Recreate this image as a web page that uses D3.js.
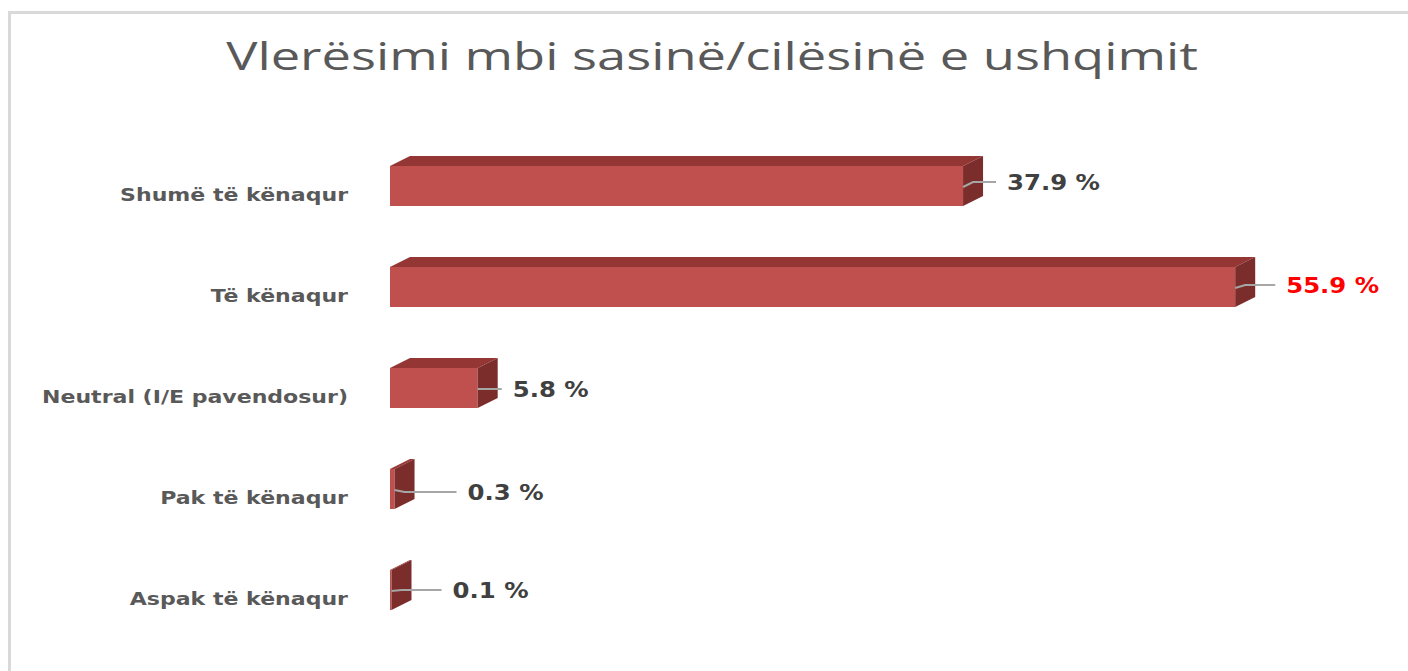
<!DOCTYPE html>
<html>
<head>
<meta charset="utf-8">
<script src="https://cdn.jsdelivr.net/npm/d3@7"></script>
<style>
  body { margin: 0; background: #fff; }
  svg { display: block; }
</style>
</head>
<body>
<div id="chart"></div>
<script>
// Chart data
var categories = ["Shumë të kënaqur", "Të kënaqur", "Neutral (I/E pavendosur)", "Pak të kënaqur", "Aspak të kënaqur"];
var values = [37.9, 55.9, 5.8, 0.3, 0.1];
var valueLabels = ["37.9 %", "55.9 %", "5.8 %", "0.3 %", "0.1 %"];
var highlight = [false, true, false, false, false];
var title = "Vlerësimi mbi sasinë/cilësinë e ushqimit";

var W = 1408, H = 671;
var depthX = 20, depthY = -10;
// small hand nudges for the data labels, as in the original
var labelDx = [24, 31, 15, 53, 41];
var labelDy = [-4, -2, 1, 3, 0];

var svg = d3.select("#chart").append("svg").attr("width", W).attr("height", H);

// chart area border
svg.append("rect")
  .attr("x", 9.5).attr("y", 12.5)
  .attr("width", W + 20).attr("height", H + 20)
  .attr("fill", "#fff")
  .attr("stroke", "#d9d9d9").attr("stroke-width", 3);

var x = d3.scaleLinear().domain([0, 60]).range([390, 390 + 60 * 15.12]);
var y = d3.scalePoint().domain(categories).range([135.5, 640.5]).padding(0.5);
var barH = 40;

// title
var t = svg.append("text")
  .attr("x", 712).attr("y", 70)
  .attr("text-anchor", "middle")
  .attr("font-family", "'Open Sans', sans-serif")
  .attr("font-size", 39)
  .attr("fill", "#595959")
  .text(title);
var tw = t.node().getComputedTextLength();
t.attr("transform", "translate(712,0) scale(" + (972 / tw) + ",1) translate(-712,0)");

// category labels
var catG = svg.append("g");
var cats = catG.selectAll("text")
  .data(categories)
  .join("text")
  .attr("x", 0)
  .attr("y", d => y(d) + 15)
  .attr("text-anchor", "end")
  .attr("font-family", "'DejaVu Sans', sans-serif")
  .attr("font-weight", "bold")
  .attr("font-size", 18.5)
  .attr("fill", "#595959")
  .text(d => d);
var cw = cats.nodes()[0].getComputedTextLength();
catG.attr("transform", "translate(348,0) scale(" + (228 / cw) + ",1)");

// bars
var bars = svg.append("g").selectAll("g")
  .data(values)
  .join("g");

function poly(pts) { return "M" + pts.map(p => p.join(",")).join("L") + "Z"; }

bars.append("path")
  .attr("fill", "#c0504d")
  .attr("d", (d, i) => {
    var y0 = y(categories[i]) - barH / 2, y1 = y0 + barH, x0 = x(0), x1 = x(d);
    return poly([[x0, y0], [x1, y0], [x1, y1], [x0, y1]]);
  });
bars.append("path")
  .attr("fill", "#943634")
  .attr("d", (d, i) => {
    var y0 = y(categories[i]) - barH / 2, x0 = x(0), x1 = x(d);
    return poly([[x0, y0], [x0 + depthX, y0 + depthY], [x1 + depthX, y0 + depthY], [x1, y0]]);
  });
bars.append("path")
  .attr("fill", "#7b2d2b")
  .attr("d", (d, i) => {
    var y0 = y(categories[i]) - barH / 2, y1 = y0 + barH, x1 = x(d);
    return poly([[x1, y0], [x1 + depthX, y0 + depthY], [x1 + depthX, y1 + depthY], [x1, y1]]);
  });

// leader lines
svg.append("g").selectAll("path")
  .data(values)
  .join("path")
  .attr("fill", "none")
  .attr("stroke", "#a6a6a6")
  .attr("stroke-width", 2)
  .attr("d", (d, i) => {
    var yc = y(categories[i]) + 1, x1 = x(d);
    var lx = x1 + depthX + labelDx[i], ly = yc + labelDy[i] - 1;
    return "M" + x1 + "," + yc + "L" + (x1 + depthX / 2) + "," + ly + "L" + (lx - 11) + "," + ly;
  });

// value labels
var vl = svg.append("g").selectAll("text")
  .data(values)
  .join("text")
  .attr("font-family", "'DejaVu Sans', sans-serif")
  .attr("font-weight", "bold")
  .attr("font-size", 21)
  .attr("fill", (d, i) => highlight[i] ? "#ff0000" : "#404040")
  .text((d, i) => valueLabels[i]);
var vw = vl.nodes()[0].getComputedTextLength();
var vs = 93 / vw;
vl.attr("transform", (d, i) => {
  var lx = x(d) + depthX + labelDx[i], ly = y(categories[i]) + labelDy[i] + 7.5;
  return "translate(" + lx + "," + ly + ") scale(" + vs + ",1)";
});
</script>
</body>
</html>
